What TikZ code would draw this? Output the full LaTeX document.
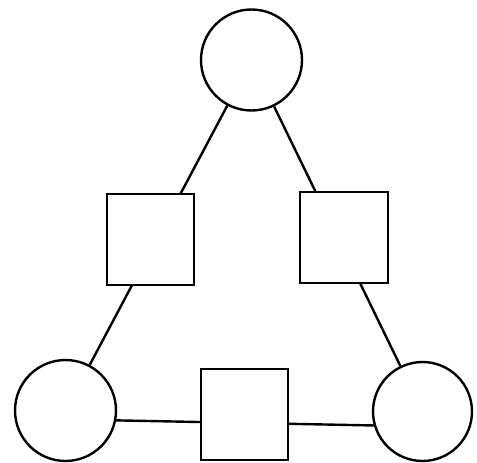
\documentclass[tikz,border=0pt]{standalone}
\usetikzlibrary{backgrounds}
\begin{document}
\begin{tikzpicture}[x=1pt,y=-1pt,
  ln/.style={line width=2.4pt},
  ring/.style={ln,draw=black,fill=white,circle,inner sep=0pt},
  box/.style={ln,draw=black,fill=white,rectangle,inner sep=0pt,minimum width=87pt,minimum height=91pt}]
\useasboundingbox (0,0) rectangle (477,463);
\node[ring,minimum size=101pt] (t) at (251.5,60) {};
\node[ring,minimum size=101pt] (bl) at (65.5,410.5) {};
\node[ring,minimum size=99pt] (br) at (422.5,411.5) {};
\node[box] (ls) at (150.5,239.5) {};
\node[box,minimum width=88pt] (rs) at (344,237.5) {};
\node[box] (bs) at (244.5,414.5) {};
\begin{scope}[on background layer]
\fill[white] (0,0) rectangle (477,463);
\draw[ln] (t) -- (bl);
\draw[ln] (t) -- (br);
\draw[ln] (bl.-11) -- (br.196);
\end{scope}
\end{tikzpicture}
\end{document}
